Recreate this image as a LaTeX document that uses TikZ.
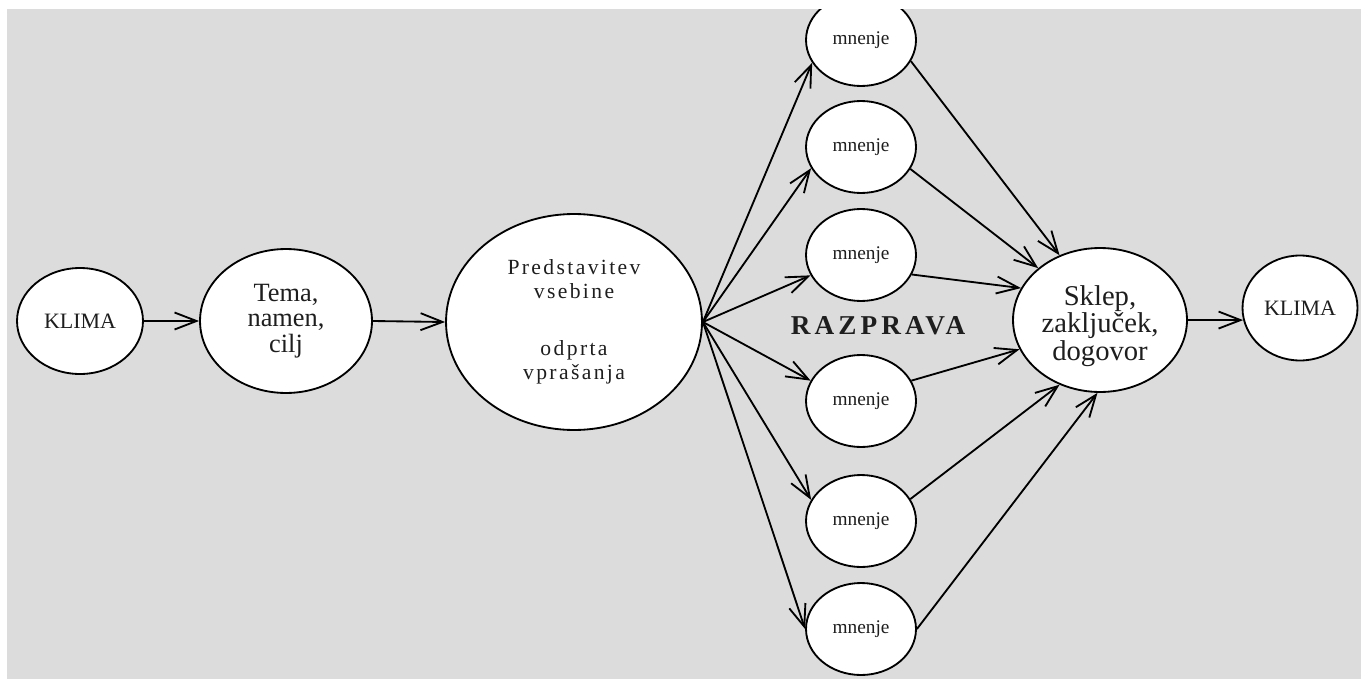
\documentclass[tikz,border=0pt]{standalone}
\usepackage{fontspec}
\setmainfont{Liberation Serif}
\usetikzlibrary{arrows.meta,shapes.geometric}
\definecolor{bggray}{HTML}{DCDCDC}
\definecolor{inkcol}{HTML}{1E1E1E}

\begin{document}
\begin{tikzpicture}[x=0.02cm,y=-0.02cm,
  bubble/.style={ellipse, draw=black, fill=white, line width=1.05pt,
    inner sep=0pt, align=center, text=inkcol},
  opinion/.style={bubble, minimum width=2.2cm, minimum height=1.84cm,
    font=\fontsize{11}{12}\selectfont},
  link/.style={line width=1.05pt, draw=black,
    -{Straight Barb[length=0.44cm,width=0.34cm,line width=1.05pt]}}
]
% page background
\fill[bggray] (0,0) rectangle (1361,679);
\useasboundingbox (0,0) rectangle (1361,679);

% main chain
\node[bubble, minimum width=2.52cm, minimum height=2.12cm,
  font=\fontsize{12.5}{13}\selectfont] (kl) at (80,321) {KLIMA};
\node[bubble, minimum width=3.44cm, minimum height=2.88cm,
  font=\fontsize{15}{14.5}\selectfont] (tema) at (286,321) {Tema,\\namen,\\cilj};
\node[bubble, minimum width=5.12cm, minimum height=4.32cm,
  font=\fontsize{12.3}{13.6}\selectfont\addfontfeatures{LetterSpace=11}] (pred) at (574,322)
  {Predstavitev\\vsebine\\[19pt]odprta\\vprašanja};
% the strut on the first line lowers the text block a little inside the ellipse
\node[bubble, minimum width=3.48cm, minimum height=2.88cm,
  font=\fontsize{16.3}{15.6}\selectfont] (sk) at (1100,320)
  {\rule{0pt}{18pt}Sklep,\\zaključek,\\dogovor};
\node[bubble, minimum width=2.3cm, minimum height=2.1cm,
  font=\fontsize{12.5}{13}\selectfont] (kr) at (1300,308) {KLIMA};

% opinions
\node[opinion] (m1) at (861,40)  {mnenje};
\node[opinion] (m2) at (861,147) {mnenje};
\node[opinion] (m3) at (861,255) {mnenje};
\node[opinion] (m4) at (861,401) {mnenje};
\node[opinion] (m5) at (861,521) {mnenje};
\node[opinion] (m6) at (861,629) {mnenje};

\node[text=inkcol, font=\fontsize{15.5}{16}\selectfont\bfseries\addfontfeatures{LetterSpace=15}]
  (razp) at (878,326) {RAZPRAVA};

% connectors
\draw[link] (kl.east) -- (tema.west);
\draw[link] (tema.east) -- (pred.west);

\draw[link] (pred.east) -- (m1.205);
\draw[link] (pred.east) -- (m2.203);
\draw[link] (pred.east) -- (m3.202);
\draw[link] (pred.east) -- (m4.158);
\draw[link] (pred.east) -- (m5.157);
\draw[link] (pred.east) -- (m6.180);

\draw[link] (m1.-23) -- (sk.122);
\draw[link] (m2.-24) -- (sk.140);
\draw[link] (m3.-21) -- (sk.158);
\draw[link] (m4.22)  -- (sk.200);
\draw[link] (m5.24)  -- (sk.238);
\draw[link] (m6.0)   -- (sk.268);

\draw[link] (sk.east) -- (kr.192);

% white page margins on top and left
\fill[white] (0,0) rectangle (1361,9);
\fill[white] (0,0) rectangle (7,679);
\end{tikzpicture}
\end{document}
